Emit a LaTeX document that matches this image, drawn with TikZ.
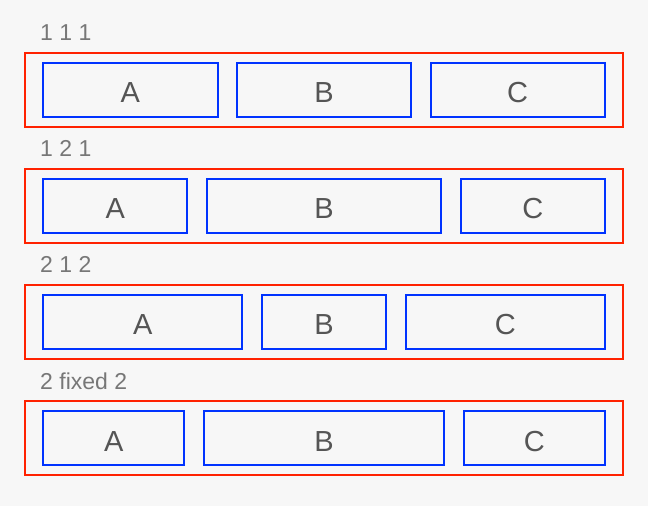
\documentclass[tikz,border=0pt]{standalone}
\usepackage{fontspec}
\setmainfont{Liberation Sans}
\usetikzlibrary{positioning}
\definecolor{bgcol}{HTML}{F7F7F7}
\definecolor{framered}{HTML}{FF2200}
\definecolor{itemblue}{HTML}{0033FF}
\definecolor{labelgray}{HTML}{777777}
\definecolor{lettergray}{HTML}{555555}
\tikzset{
  rowframe/.style={rectangle, draw=framered, line width=2pt, outer sep=0pt, inner sep=0pt,
                   minimum width=597.4pt, minimum height=74pt},
  item/.style={rectangle, draw=itemblue, line width=2pt, outer sep=0pt, inner sep=0pt,
               minimum height=54pt, text=lettergray, font=\fontsize{29}{29}\selectfont,
               text height=26pt, text depth=0pt},
  rowlabel/.style={anchor=base west, inner sep=0pt, text=labelgray, font=\fontsize{23}{23}\selectfont},
}

\begin{document}
\begin{tikzpicture}[x=1pt, y=-1pt, node distance=0pt and 19.5pt]

  %% background and margins
  \fill[bgcol] (0,0) rectangle (648,506);
  \useasboundingbox (0,0) rectangle (648,506);

  %% one row per ratio: frame, caption, three items
  \foreach \r/\lbl/\wa/\wb in {
    1/{1 1 1}/174.2/174.1,
    2/{1 2 1}/144/234.5,
    3/{2 1 2}/199/124.5,
    4/{2 fixed 2}/141/240.5}
  {
    \pgfmathsetmacro{\rowtop}{52.5+(\r-1)*116.2}
    \node[rowframe] (frame\r) at (324, \rowtop+37) {};
    \node[rowlabel] (label\r) at (40, \rowtop-12) {\lbl};
    \node[item, minimum width=\wa pt, anchor=west] (a\r) at (43.3, \rowtop+37) {A};
    \node[item, minimum width=\wb pt, right=of a\r] (b\r) {B};
    \node[item, minimum width=\wa pt, right=of b\r] (c\r) {C};
  }

\end{tikzpicture}
\end{document}
